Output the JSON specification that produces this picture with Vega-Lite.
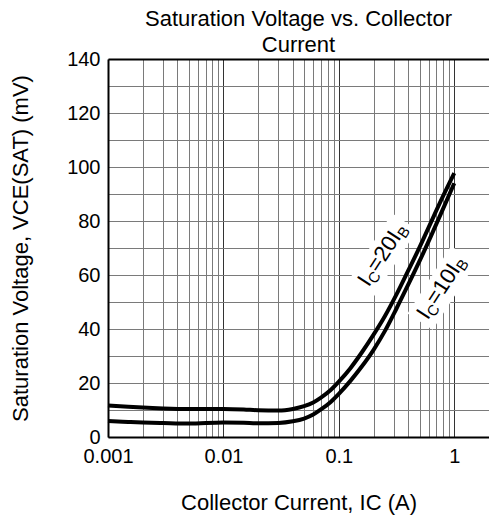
{
  "$schema": "https://vega.github.io/schema/vega-lite/v6.json",
  "width": 381,
  "height": 378,
  "autosize": "none",
  "padding": {"left": 108, "top": 59, "right": 0, "bottom": 78},
  "background": "white",
  "config": {
    "font": "Liberation Sans",
    "view": {"stroke": null}
  },
  "title": {
    "text": ["Saturation Voltage vs. Collector", "Current"],
    "fontSize": 22,
    "fontWeight": "normal",
    "color": "black",
    "lineHeight": 26,
    "offset": 3,
    "dy": 11,
    "anchor": "middle",
    "frame": "group"
  },
  "datasets": {
    "curves": [
      {"current": 0.001, "voltage": 11.7, "ratio": "20"},
      {"current": 0.0015, "voltage": 11.2, "ratio": "20"},
      {"current": 0.002, "voltage": 10.9, "ratio": "20"},
      {"current": 0.003, "voltage": 10.6, "ratio": "20"},
      {"current": 0.005, "voltage": 10.4, "ratio": "20"},
      {"current": 0.01, "voltage": 10.4, "ratio": "20"},
      {"current": 0.015, "voltage": 10.2, "ratio": "20"},
      {"current": 0.02, "voltage": 9.9, "ratio": "20"},
      {"current": 0.03, "voltage": 9.8, "ratio": "20"},
      {"current": 0.04, "voltage": 10.4, "ratio": "20"},
      {"current": 0.05, "voltage": 11.4, "ratio": "20"},
      {"current": 0.06, "voltage": 12.8, "ratio": "20"},
      {"current": 0.07, "voltage": 14.6, "ratio": "20"},
      {"current": 0.085, "voltage": 17.4, "ratio": "20"},
      {"current": 0.1, "voltage": 20.5, "ratio": "20"},
      {"current": 0.126, "voltage": 25.5, "ratio": "20"},
      {"current": 0.158, "voltage": 31.3, "ratio": "20"},
      {"current": 0.2, "voltage": 37.9, "ratio": "20"},
      {"current": 0.251, "voltage": 44.8, "ratio": "20"},
      {"current": 0.316, "voltage": 52.8, "ratio": "20"},
      {"current": 0.398, "voltage": 61.5, "ratio": "20"},
      {"current": 0.501, "voltage": 70.3, "ratio": "20"},
      {"current": 0.631, "voltage": 79.7, "ratio": "20"},
      {"current": 0.794, "voltage": 88.9, "ratio": "20"},
      {"current": 1.0, "voltage": 97.7, "ratio": "20"},
      {"current": 0.001, "voltage": 5.9, "ratio": "10"},
      {"current": 0.0015, "voltage": 5.6, "ratio": "10"},
      {"current": 0.002, "voltage": 5.4, "ratio": "10"},
      {"current": 0.003, "voltage": 5.2, "ratio": "10"},
      {"current": 0.005, "voltage": 5.0, "ratio": "10"},
      {"current": 0.01, "voltage": 5.4, "ratio": "10"},
      {"current": 0.015, "voltage": 5.3, "ratio": "10"},
      {"current": 0.02, "voltage": 5.1, "ratio": "10"},
      {"current": 0.03, "voltage": 5.2, "ratio": "10"},
      {"current": 0.04, "voltage": 5.8, "ratio": "10"},
      {"current": 0.05, "voltage": 6.8, "ratio": "10"},
      {"current": 0.06, "voltage": 8.3, "ratio": "10"},
      {"current": 0.07, "voltage": 10.2, "ratio": "10"},
      {"current": 0.085, "voltage": 13, "ratio": "10"},
      {"current": 0.1, "voltage": 16, "ratio": "10"},
      {"current": 0.126, "voltage": 20.8, "ratio": "10"},
      {"current": 0.158, "voltage": 26.1, "ratio": "10"},
      {"current": 0.2, "voltage": 32.3, "ratio": "10"},
      {"current": 0.251, "voltage": 39.3, "ratio": "10"},
      {"current": 0.316, "voltage": 47.6, "ratio": "10"},
      {"current": 0.398, "voltage": 56.3, "ratio": "10"},
      {"current": 0.501, "voltage": 65.2, "ratio": "10"},
      {"current": 0.631, "voltage": 74.6, "ratio": "10"},
      {"current": 0.794, "voltage": 84.2, "ratio": "10"},
      {"current": 1.0, "voltage": 94, "ratio": "10"}
    ],
    "labels": [
      {"current": 0.182, "voltage": 55.3, "ratio": "20", "mid": "=20I"},
      {"current": 0.59, "voltage": 43.1, "ratio": "10", "mid": "=10I"}
    ]
  },
  "encoding": {
    "x": {
      "field": "current",
      "type": "quantitative",
      "scale": {"type": "log", "domain": [0.001, 2], "nice": false},
      "axis": {
        "title": "Collector Current, IC (A)",
        "values": [0.001, 0.002, 0.003, 0.004, 0.005, 0.006, 0.007, 0.008, 0.009, 0.01, 0.02, 0.03, 0.04, 0.05, 0.06, 0.07, 0.08, 0.09, 0.1, 0.2, 0.3, 0.4, 0.5, 0.6, 0.7, 0.8, 0.9, 1],
        "format": "~g",
        "labelExpr": "indexof([0.001, 0.01, 0.1, 1], datum.value) >= 0 ? datum.label : ''",
        "labelOverlap": false,
        "labelFlush": false,
        "grid": true,
        "gridColor": {"condition": {"test": "indexof([0.01, 0.1, 1], datum.value) >= 0", "value": "#333333"}, "value": "#7a7a7a"},
        "gridWidth": 1,
        "ticks": false,
        "domainColor": "black",
        "domainWidth": 2,
        "labelFontSize": 20,
        "labelColor": "black",
        "labelPadding": 9,
        "titleFontSize": 22,
        "titleFontWeight": "normal",
        "titleColor": "black",
        "titlePadding": 26
      }
    },
    "y": {
      "field": "voltage",
      "type": "quantitative",
      "scale": {"domain": [0, 140], "nice": false},
      "axis": {
        "title": "Saturation Voltage, VCE(SAT) (mV)",
        "values": [0, 10, 20, 30, 40, 50, 60, 70, 80, 90, 100, 110, 120, 130, 140],
        "labelExpr": "datum.value % 20 === 0 ? datum.label : ''",
        "labelOverlap": false,
        "labelFlush": false,
        "grid": true,
        "gridColor": {"condition": {"test": "datum.value === 140", "value": "black"}, "value": "#7a7a7a"},
        "gridWidth": {"condition": {"test": "datum.value === 140", "value": 2}, "value": 1},
        "ticks": false,
        "domainColor": "black",
        "domainWidth": 2,
        "labelFontSize": 20,
        "labelColor": "black",
        "labelPadding": 8,
        "titleFontSize": 22,
        "titleFontWeight": "normal",
        "titleColor": "black",
        "titlePadding": 34
      }
    }
  },
  "layer": [
    {
      "data": {"name": "labels"},
      "mark": {"type": "point", "shape": "M-0.125,-0.525L1.875,-0.525L1.875,0.225L-0.125,0.225Z", "size": 6400, "angle": 303, "filled": true, "fill": "white", "stroke": null, "opacity": 1}
    },
    {
      "data": {"name": "labels"},
      "mark": {"type": "text", "text": "I", "align": "left", "baseline": "alphabetic", "angle": 303, "fontSize": 22, "color": "black"}
    },
    {
      "data": {"name": "labels"},
      "mark": {"type": "text", "text": "C", "align": "left", "baseline": "alphabetic", "angle": 303, "fontSize": 15, "dx": 6.1, "dy": 4, "color": "black"}
    },
    {
      "data": {"name": "labels"},
      "mark": {"type": "text", "align": "left", "baseline": "alphabetic", "angle": 303, "fontSize": 22, "dx": 17, "color": "black"},
      "encoding": {"text": {"field": "mid"}}
    },
    {
      "data": {"name": "labels"},
      "mark": {"type": "text", "text": "B", "align": "left", "baseline": "alphabetic", "angle": 303, "fontSize": 15, "dx": 60.5, "dy": 4, "color": "black"}
    },
    {
      "data": {"name": "curves"},
      "mark": {"type": "line", "color": "black", "strokeWidth": 4, "interpolate": "monotone"},
      "encoding": {"detail": {"field": "ratio"}}
    }
  ]
}
